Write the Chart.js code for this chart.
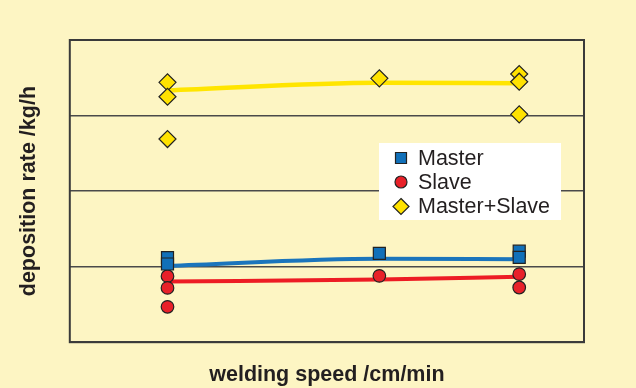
<!DOCTYPE html>
<html>
<head>
<meta charset="utf-8">
<script src="https://cdn.jsdelivr.net/npm/chart.js@4.4.1/dist/chart.umd.min.js"></script>
<style>
  html, body { margin: 0; padding: 0; background: #fdf5c3; }
  #wrap { width: 636px; height: 388px; }
</style>
</head>
<body>
<div id="wrap"><canvas id="chart"></canvas></div>
<script>
// welding speed positions (no tick labels on the original)
const speeds = [19, 60.2, 87.4];

// measured points
const masterX = [19, 19, 60.2, 87.4, 87.4];
const masterY = [1.12, 1.035, 1.175, 1.205, 1.122];
const slaveX = [19, 19, 19, 60.2, 87.4, 87.4];
const slaveY = [0.874, 0.719, 0.468, 0.878, 0.901, 0.724];
const bothX = [19, 19, 19, 60.2, 87.4, 87.4, 87.4];
const bothY = [3.44, 3.249, 2.689, 3.493, 3.55, 3.448, 3.016];

// fitted trend lines
const masterFit = [1.011, 1.104, 1.099];
const slaveFit = [0.803, 0.83, 0.865];
const bothFit = [3.334, 3.435, 3.426];

const legendLabels = ['Master', 'Slave', 'Master+Slave'];

const pts = (xs, ys) => xs.map((x, i) => ({ x: x, y: ys[i] }));

const FONT = '"Liberation Sans", Arial, Helvetica, sans-serif';
const INK = '#231f20';

const colors = {
    master: '#1170b9',
    slave: '#e82129',
    both: '#ffe200',
    masterLine: '#1b75bc',
    slaveLine: '#ed1c24',
    bothLine: '#ffe500'
};

// plot frame around the chart area
const framePlugin = {
    id: 'frame',
    beforeDatasetsDraw(chart) {
        const { ctx, chartArea: a } = chart;
        ctx.save();
        ctx.strokeStyle = '#3a3a3a';
        ctx.lineWidth = 2;
        ctx.strokeRect(a.left, a.top, a.right - a.left, a.bottom - a.top);
        ctx.restore();
    }
};

// white legend box inside the plot
const legendPlugin = {
    id: 'boxLegend',
    afterDatasetsDraw(chart) {
        const ctx = chart.ctx;
        const bx = 379, by = 143, bw = 182, bh = 77;
        const rows = [158, 182, 206.5];
        const mx = 401, tx = 418;
        ctx.save();
        ctx.fillStyle = '#ffffff';
        ctx.fillRect(bx, by, bw, bh);
        ctx.lineWidth = 1.2;
        ctx.strokeStyle = '#222';

        // square
        ctx.fillStyle = colors.master;
        ctx.beginPath();
        ctx.rect(mx - 5.5, rows[0] - 5.5, 11, 11);
        ctx.fill(); ctx.stroke();
        // circle
        ctx.fillStyle = colors.slave;
        ctx.beginPath();
        ctx.arc(mx, rows[1], 6, 0, Math.PI * 2);
        ctx.fill(); ctx.stroke();
        // diamond
        ctx.fillStyle = colors.both;
        ctx.beginPath();
        ctx.moveTo(mx, rows[2] - 8);
        ctx.lineTo(mx + 8, rows[2]);
        ctx.lineTo(mx, rows[2] + 8);
        ctx.lineTo(mx - 8, rows[2]);
        ctx.closePath();
        ctx.fill(); ctx.stroke();

        ctx.fillStyle = INK;
        ctx.font = '21.5px ' + FONT;
        ctx.textBaseline = 'middle';
        legendLabels.forEach((t, i) => ctx.fillText(t, tx, rows[i] + 1));
        ctx.restore();
    }
};

new Chart(document.getElementById('chart'), {
    type: 'scatter',
    data: {
        datasets: [
            {
                label: 'Master',
                data: pts(masterX, masterY),
                pointStyle: 'rect',
                pointRadius: 8.5,
                pointHoverRadius: 8.5,
                backgroundColor: colors.master,
                borderColor: '#222',
                borderWidth: 1.2,
                order: 1
            },
            {
                label: 'Slave',
                data: pts(slaveX, slaveY),
                pointStyle: 'circle',
                pointRadius: 6.3,
                pointHoverRadius: 6.3,
                backgroundColor: colors.slave,
                borderColor: '#222',
                borderWidth: 1.2,
                order: 1
            },
            {
                label: 'Master+Slave',
                data: pts(bothX, bothY),
                pointStyle: 'rectRot',
                pointRadius: 8.5,
                pointHoverRadius: 8.5,
                backgroundColor: colors.both,
                borderColor: '#222',
                borderWidth: 1.2,
                order: 1
            },
            {
                label: 'Master fit',
                data: pts(speeds, masterFit),
                showLine: true,
                cubicInterpolationMode: 'monotone',
                pointRadius: 0,
                borderColor: colors.masterLine,
                borderWidth: 4,
                order: 2
            },
            {
                label: 'Slave fit',
                data: pts(speeds, slaveFit),
                showLine: true,
                cubicInterpolationMode: 'monotone',
                pointRadius: 0,
                borderColor: colors.slaveLine,
                borderWidth: 4,
                order: 2
            },
            {
                label: 'Master+Slave fit',
                data: pts(speeds, bothFit),
                showLine: true,
                cubicInterpolationMode: 'monotone',
                pointRadius: 0,
                borderColor: colors.bothLine,
                borderWidth: 4.5,
                order: 2
            }
        ]
    },
    options: {
        responsive: true,
        maintainAspectRatio: false,
        animation: false,
        layout: {
            padding: { top: 40, right: 52, left: 0, bottom: 0 }
        },
        plugins: {
            legend: { display: false },
            tooltip: { enabled: false }
        },
        scales: {
            x: {
                type: 'linear',
                min: 0,
                max: 100,
                ticks: { display: false },
                grid: { display: false, drawTicks: false, tickLength: 0 },
                border: { display: false },
                title: {
                    display: true,
                    text: 'welding speed /cm/min',
                    color: INK,
                    font: { family: FONT, size: 21.5, weight: 'bold' },
                    padding: { top: 20, bottom: 0 }
                }
            },
            y: {
                min: 0,
                max: 4,
                ticks: { display: false, stepSize: 1 },
                grid: { color: '#4a4a4a', lineWidth: 1.5, drawTicks: false, tickLength: 0 },
                border: { display: false },
                title: {
                    display: true,
                    text: 'deposition rate /kg/h',
                    color: INK,
                    font: { family: FONT, size: 21.5, weight: 'bold' },
                    padding: { top: 16, bottom: 28 }
                }
            }
        }
    },
    plugins: [framePlugin, legendPlugin]
});
</script>
</body>
</html>
